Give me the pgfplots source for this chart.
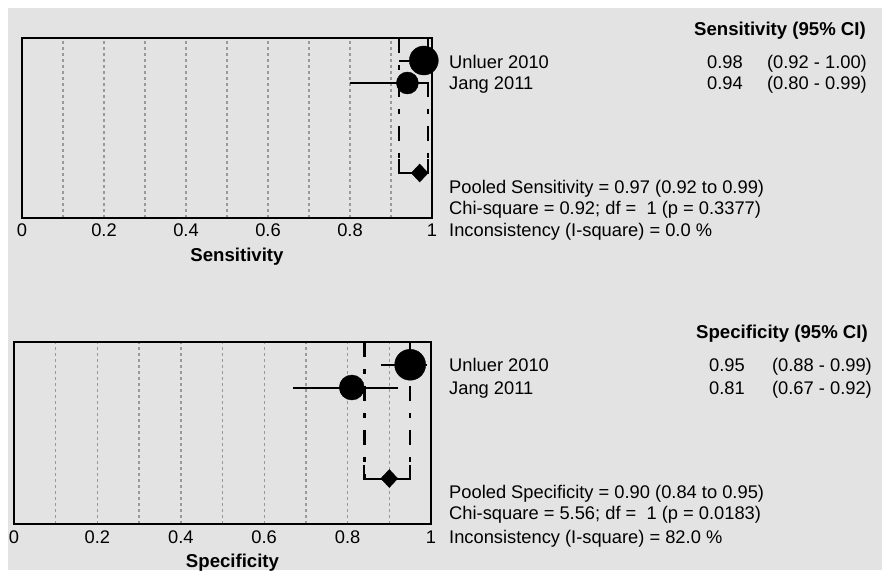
\documentclass[border=0pt]{standalone}
\usepackage{fontspec}
\setmainfont{Liberation Sans}
\usepackage{pgfplots}
\pgfplotsset{compat=1.18}
\definecolor{bg}{rgb}{0.89,0.89,0.89}
\definecolor{gridc}{rgb}{0.6,0.6,0.6}
\newcommand{\fs}{\fontsize{18.3}{22}\selectfont}
\newcommand{\fb}{\fontsize{18.6}{22}\selectfont\bfseries}
\pgfplotsset{forest/.style={
  scale only axis, anchor=south west,
  xmin=0, xmax=1, ymin=0, ymax=8,
  xtick={0,0.2,0.4,0.6,0.8,1},
  xticklabels={0,0.2,0.4,0.6,0.8,1},
  minor xtick={0.1,0.3,0.5,0.7,0.9},
  ytick=\empty,
  xmajorgrids, xminorgrids,
  major grid style={gridc, line width=1.4pt, dash pattern=on 3pt off 3pt},
  minor grid style={gridc, line width=1.4pt, dash pattern=on 3pt off 3pt},
  major tick length=0pt, minor tick length=0pt,
  axis line style={line width=2pt},
  /pgf/number format/assume math mode=true,
  xticklabel style={font=\fs, anchor=base, yshift=-19pt, inner sep=0pt},
  xlabel style={font=\fb, at={(axis description cs:0.5,0)}, anchor=base, yshift=-44pt, xshift=10pt},
  clip=false,
}}
\begin{document}
\begin{tikzpicture}
\path[use as bounding box] (0,0) rectangle (882pt,570pt);
\fill[white] (0,0) rectangle (882pt,570pt);
\fill[bg] (8pt,0) rectangle (882pt,562pt);

% ---------- Sensitivity ----------
\begin{axis}[forest, at={(22pt,352pt)}, width=410pt, height=180pt, xlabel={Sensitivity}]
\addplot[line width=2.5pt, dash pattern=on 15pt off 12pt on 5pt off 12pt] coordinates {(0.92,8) (0.92,2)};
\addplot[line width=2.5pt, dash pattern=on 15pt off 12pt on 5pt off 12pt] coordinates {(0.99,8) (0.99,2)};
\addplot[line width=2pt] coordinates {(0.92,2.6) (0.92,2) (0.99,2) (0.99,2.6)};
\addplot[only marks, mark=*, mark size=14.5pt, error bars/.cd, x dir=both, x explicit, error mark=none, error bar style={line width=2pt}]
  coordinates {(0.98,7) += (0.02,0) -= (0.06,0)};
\addplot[only marks, mark=*, mark size=11pt, error bars/.cd, x dir=both, x explicit, error mark=none, error bar style={line width=2pt}]
  coordinates {(0.94,6) += (0.05,0) -= (0.14,0)};
\addplot[only marks, mark=diamond*, mark size=9pt, mark options={xscale=1.25}] coordinates {(0.97,2)};
\end{axis}

% ---------- Specificity ----------
\begin{axis}[forest, at={(14pt,46pt)}, width=417pt, height=182pt, xlabel={Specificity}, xlabel style={yshift=1pt, xshift=0pt}]
\addplot[line width=2.5pt, dash pattern=on 15pt off 12pt on 5pt off 12pt] coordinates {(0.84,8) (0.84,2)};
\addplot[line width=2.5pt, dash pattern=on 15pt off 12pt on 5pt off 12pt] coordinates {(0.95,8) (0.95,2)};
\addplot[line width=2pt] coordinates {(0.84,2.6) (0.84,2) (0.95,2) (0.95,2.6)};
\addplot[only marks, mark=*, mark size=15.5pt, error bars/.cd, x dir=both, x explicit, error mark=none, error bar style={line width=2pt}]
  coordinates {(0.95,7) += (0.04,0) -= (0.07,0)};
\addplot[only marks, mark=*, mark size=12.5pt, error bars/.cd, x dir=both, x explicit, error mark=none, error bar style={line width=2pt}]
  coordinates {(0.81,6) += (0.11,0) -= (0.14,0)};
\addplot[only marks, mark=diamond*, mark size=9pt, mark options={xscale=1.25}] coordinates {(0.90,2)};
\end{axis}

% ---------- text, top ----------
\node[anchor=base east, inner sep=0pt, font=\fb] at (866pt,534pt) {Sensitivity (95\% CI)};
\node[anchor=base west, inner sep=0pt, font=\fs] at (449pt,501.5pt) {Unluer 2010};
\node[anchor=base west, inner sep=0pt, font=\fs] at (449pt,480.5pt) {Jang 2011};
\node[anchor=base east, inner sep=0pt, font=\fs] at (743pt,501.5pt) {0.98};
\node[anchor=base east, inner sep=0pt, font=\fs] at (743pt,480.5pt) {0.94};
\node[anchor=base east, inner sep=0pt, font=\fs] at (867pt,501.5pt) {(0.92 - 1.00)};
\node[anchor=base east, inner sep=0pt, font=\fs] at (867pt,480.5pt) {(0.80 - 0.99)};
\node[anchor=base west, inner sep=0pt, font=\fs] at (449pt,376.5pt) {Pooled Sensitivity = 0.97 (0.92 to 0.99)};
\node[anchor=base west, inner sep=0pt, font=\fs] at (449pt,355.5pt) {Chi-square = 0.92; df = \ 1 (p = 0.3377)};
\node[anchor=base west, inner sep=0pt, font=\fs] at (449pt,333.5pt) {Inconsistency (I-square) = 0.0 \%};

% ---------- text, bottom ----------
\node[anchor=base east, inner sep=0pt, font=\fb] at (868pt,231.5pt) {Specificity (95\% CI)};
\node[anchor=base west, inner sep=0pt, font=\fs] at (449pt,198.5pt) {Unluer 2010};
\node[anchor=base west, inner sep=0pt, font=\fs] at (449pt,175.5pt) {Jang 2011};
\node[anchor=base east, inner sep=0pt, font=\fs] at (745pt,198.5pt) {0.95};
\node[anchor=base east, inner sep=0pt, font=\fs] at (745pt,175.5pt) {0.81};
\node[anchor=base east, inner sep=0pt, font=\fs] at (872pt,198.5pt) {(0.88 - 0.99)};
\node[anchor=base east, inner sep=0pt, font=\fs] at (872pt,175.5pt) {(0.67 - 0.92)};
\node[anchor=base west, inner sep=0pt, font=\fs] at (449pt,71.5pt) {Pooled Specificity = 0.90 (0.84 to 0.95)};
\node[anchor=base west, inner sep=0pt, font=\fs] at (449pt,50.5pt) {Chi-square = 5.56; df = \ 1 (p = 0.0183)};
\node[anchor=base west, inner sep=0pt, font=\fs] at (449pt,26.5pt) {Inconsistency (I-square) = 82.0 \%};
\end{tikzpicture}
\end{document}
